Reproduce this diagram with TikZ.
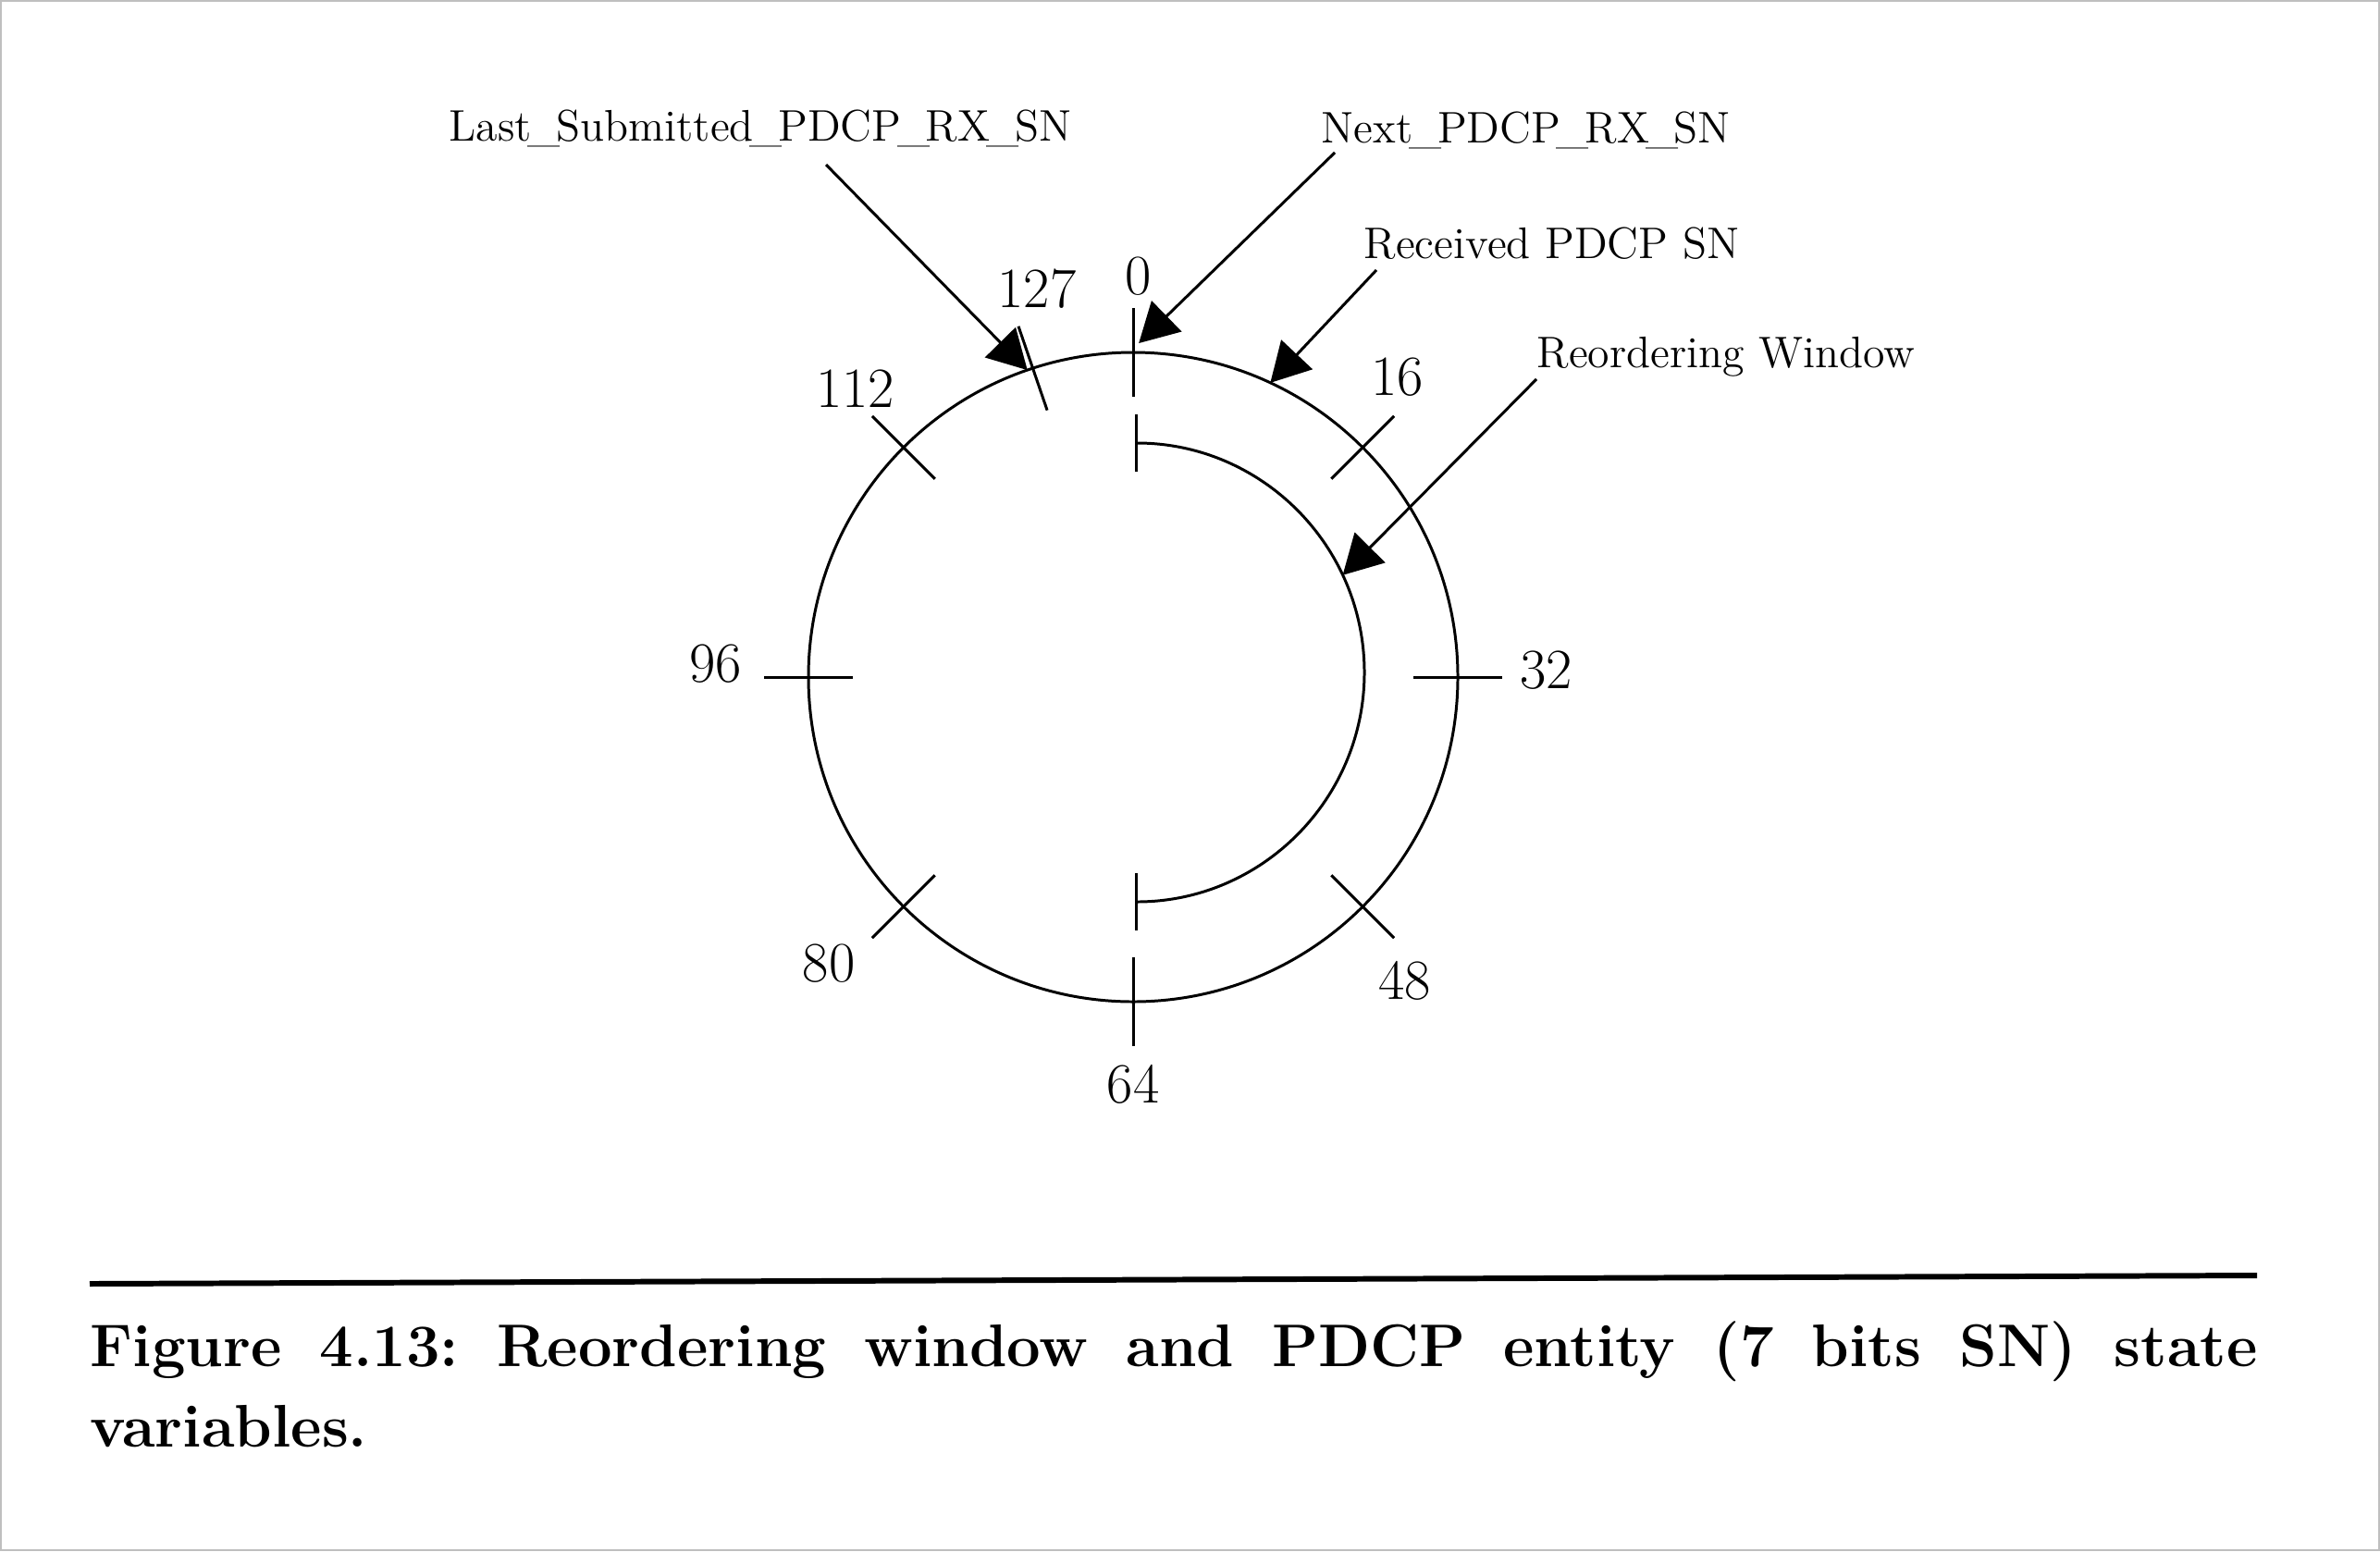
\documentclass[tikz,border=0pt]{standalone}
\usetikzlibrary{arrows.meta,positioning}

\newcommand{\usc}{\kern-0.09em\_\kern-0.09em}

\tikzset{
  snring/.style={circle, draw, line width=0.85pt, minimum size=7.02cm, inner sep=0pt, outer sep=0pt},
  sntick/.style={line width=0.85pt},
  snnum/.style={font={\fontsize{17.5}{20}\selectfont}, inner sep=0pt},
  varlbl/.style={font={\fontsize{13.6}{16}\selectfont}, inner sep=0pt, anchor=base west},
  pointer/.style={line width=0.85pt, -{Triangle[length=0.42cm,width=0.46cm]}},
  winarc/.style={line width=0.85pt, {Bar[width=0.62cm]}-{Bar[width=0.62cm]}},
  captxt/.style={font={\bfseries\fontsize{18.5}{25}\selectfont\frenchspacing}, text width=23.43cm, align=justify, inner sep=0pt, anchor=base west},
}

\begin{document}
\begin{tikzpicture}
  \useasboundingbox (0,0) rectangle (25.73,-16.77);
  \draw[black!25, line width=0.5pt] (0.01,-0.01) rectangle (25.72,-16.76);

  % sequence number ring
  \node[snring] (ring) at (12.25,-7.32) {};
  \foreach \ang in {90,45,0,315,270,225,180,135,108.9}
    \draw[sntick] ([shift={(\ang:0.48)}]ring.\ang) -- ([shift={(\ang:-0.48)}]ring.\ang);
  \foreach \sn/\ang/\rad in {0/89.3/4.33, 16/48.6/4.32, 32/1.0/4.47, 48/311.8/4.40, 64/270/4.40,
                             80/223.3/4.52, 96/178.2/4.52, 112/133.9/4.33, 127/103.9/4.33}
    \node[snnum] (sn\sn) at ([shift={(\ang:\rad)}]ring.center) {\sn};

  % reordering window
  \coordinate (wincen) at (12.27,-7.27);
  \draw[winarc] ([shift={(90:2.48)}]wincen) arc[start angle=90, end angle=-90, radius=2.48];

  % state variables
  \node[varlbl] (lastlbl) at (4.85,-1.52) {Last\usc Submitted\usc PDCP\usc RX\usc SN};
  \node[varlbl] (nextlbl) at (14.28,-1.54) {Next\usc PDCP\usc RX\usc SN};
  \node[varlbl] (recvlbl) at (14.74,-2.79) {Received PDCP SN};
  \node[varlbl] (winlbl) at (16.61,-3.97) {Reordering Window};

  \draw[pointer] ([shift={(4.08,-0.26)}]lastlbl.base west) -- (ring.109);
  \draw[pointer] ([shift={(0.15,-0.11)}]nextlbl.base west) -- ([yshift=0.1cm]ring.89);
  \draw[pointer] ([shift={(0.14,-0.13)}]recvlbl.base west) -- (ring.65.7);
  \draw[pointer] ([shift={(0,-0.13)}]winlbl.base west) -- ([shift={(25.1:2.48)}]wincen);

  % caption
  \coordinate (ruleL) at (0.97,-13.88);
  \coordinate (ruleR) at (24.40,-13.79);
  \draw[line width=1.7pt] (ruleL) -- (ruleR);
  \node[captxt] (caption) at (0.97,-14.77)
    {Figure 4.13: Reordering window and PDCP entity (7 bits SN) state\linebreak variables.};
\end{tikzpicture}
\end{document}
